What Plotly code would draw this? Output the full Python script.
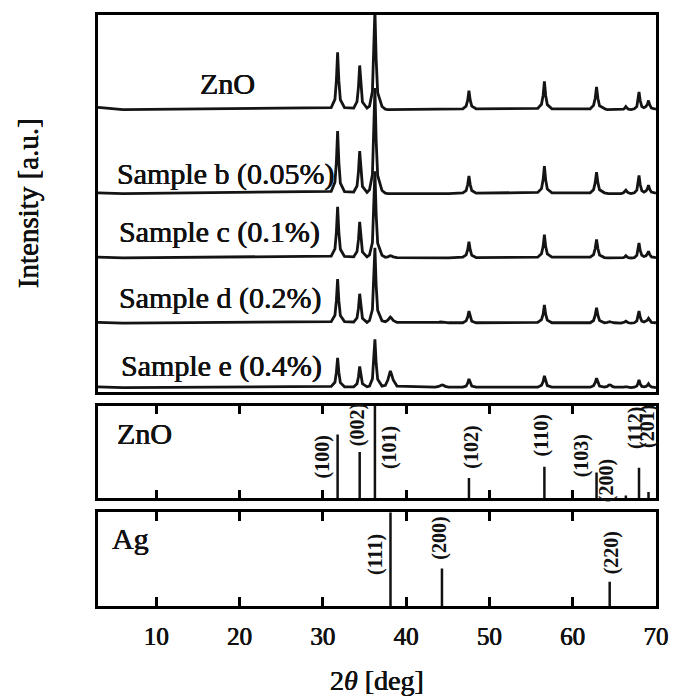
import plotly.graph_objects as go

# ---- measured XRD patterns (2theta grid shared by all samples) ----
TWO_THETA = [3.0, 6.0,
             31.0, 31.45, 31.62, 31.77, 31.92, 32.1, 32.6,
             33.7, 34.1, 34.27, 34.42, 34.57, 34.75, 35.3,
             35.6, 35.95, 36.1, 36.25, 36.4, 36.58, 37.1,
             37.5, 37.8, 37.95, 38.1, 38.25, 38.45, 38.9,
             43.5, 43.9, 44.1, 44.3, 44.5, 44.7, 45.1,
             46.8, 47.2, 47.39, 47.54, 47.69, 47.88, 48.4,
             55.8, 56.25, 56.45, 56.6, 56.75, 56.95, 57.5,
             62.1, 62.5, 62.7, 62.86, 63.02, 63.22, 63.8,
             63.95, 64.15, 64.3, 64.44, 64.6, 64.75, 65.0,
             65.8, 66.1, 66.25, 66.38, 66.52, 66.68, 67.0,
             67.4, 67.7, 67.82, 67.96, 68.1, 68.3, 68.55,
             68.8, 68.97, 69.1, 69.25, 69.45, 70.0]

I_ZNO = [0.6, 0.0,
         0.5, 2.7, 7.6, 15.2, 7.6, 2.6, 0.5,
         0.4, 2.1, 5.9, 11.7, 5.9, 2.0, 0.4,
         0.9, 4.8, 13.3, 26.5, 13.3, 4.5, 0.8,
         0.1, 0.0, 0.0, 0.0, 0.0, 0.0, 0.0,
         0.0, 0.0, 0.0, 0.0, 0.0, 0.0, 0.0,
         0.2, 0.9, 2.5, 5.0, 2.5, 0.9, 0.2,
         0.3, 1.4, 3.8, 7.5, 3.8, 1.3, 0.2,
         0.2, 1.1, 3.0, 6.0, 3.0, 1.0, 0.2,
         0.1, 0.0, 0.0, 0.0, 0.0, 0.0, 0.0,
         0.0, 0.1, 0.4, 0.8, 0.4, 0.1, 0.0,
         0.2, 0.8, 2.4, 4.7, 2.4, 0.8, 0.5,
         0.8, 1.4, 2.4, 1.2, 0.4, 0.1]

I_B = [0.2, 0.0,
       0.6, 3.0, 8.3, 16.6, 8.3, 2.8, 0.5,
       0.4, 2.0, 5.7, 11.3, 5.7, 1.9, 0.3,
       1.0, 5.0, 14.0, 28.0, 14.0, 4.8, 0.8,
       0.1, 0.0, 0.0, 0.0, 0.0, 0.0, 0.0,
       0.0, 0.0, 0.0, 0.0, 0.0, 0.0, 0.0,
       0.2, 0.8, 2.4, 4.7, 2.4, 0.8, 0.1,
       0.3, 1.3, 3.7, 7.3, 3.7, 1.2, 0.2,
       0.2, 1.0, 2.9, 5.7, 2.9, 1.0, 0.2,
       0.1, 0.0, 0.0, 0.0, 0.0, 0.0, 0.0,
       0.0, 0.2, 0.5, 0.9, 0.5, 0.2, 0.0,
       0.2, 0.9, 2.4, 4.8, 2.4, 0.8, 0.4,
       0.7, 1.3, 2.2, 1.1, 0.4, 0.1]

I_C = [0.2, 0.0,
       0.5, 2.4, 6.8, 13.6, 6.8, 2.3, 0.4,
       0.3, 1.7, 4.8, 9.6, 4.8, 1.6, 0.3,
       0.8, 4.1, 11.5, 23.0, 11.5, 3.9, 0.7,
       0.2, 0.3, 0.5, 0.6, 0.5, 0.3, 0.1,
       0.0, 0.0, 0.0, 0.0, 0.0, 0.0, 0.0,
       0.2, 0.8, 2.2, 4.3, 2.2, 0.7, 0.1,
       0.2, 1.1, 3.1, 6.2, 3.1, 1.1, 0.2,
       0.2, 0.9, 2.5, 4.9, 2.5, 0.8, 0.1,
       0.0, 0.0, 0.0, 0.0, 0.0, 0.0, 0.0,
       0.0, 0.1, 0.3, 0.6, 0.3, 0.1, 0.0,
       0.1, 0.7, 2.0, 4.0, 2.0, 0.7, 0.4,
       0.6, 1.1, 1.8, 0.9, 0.3, 0.1]

I_D = [0.2, 0.0,
       0.4, 2.1, 5.9, 11.7, 5.9, 2.0, 0.4,
       0.3, 1.4, 3.9, 7.8, 3.9, 1.3, 0.2,
       0.7, 3.6, 10.0, 20.0, 10.0, 3.4, 0.6,
       0.4, 0.8, 1.3, 1.6, 1.3, 0.7, 0.2,
       0.1, 0.2, 0.3, 0.3, 0.3, 0.2, 0.1,
       0.1, 0.6, 1.6, 3.2, 1.6, 0.5, 0.1,
       0.2, 0.9, 2.4, 4.8, 2.4, 0.8, 0.1,
       0.1, 0.7, 2.1, 4.1, 2.1, 0.7, 0.1,
       0.1, 0.2, 0.3, 0.4, 0.3, 0.2, 0.1,
       0.0, 0.1, 0.3, 0.5, 0.3, 0.1, 0.0,
       0.1, 0.6, 1.6, 3.2, 1.6, 0.5, 0.3,
       0.5, 0.8, 1.3, 0.7, 0.2, 0.1]

I_E = [0.2, 0.0,
       0.3, 1.4, 4.0, 7.9, 4.0, 1.3, 0.2,
       0.2, 1.0, 2.8, 5.6, 2.8, 1.0, 0.2,
       0.4, 2.3, 6.4, 12.8, 6.4, 2.2, 0.4,
       0.6, 2.0, 3.5, 4.4, 3.5, 2.0, 0.4,
       0.1, 0.3, 0.6, 0.7, 0.6, 0.3, 0.1,
       0.1, 0.4, 1.2, 2.3, 1.2, 0.4, 0.1,
       0.1, 0.6, 1.6, 3.1, 1.6, 0.5, 0.1,
       0.1, 0.5, 1.3, 2.5, 1.3, 0.4, 0.1,
       0.1, 0.3, 0.6, 0.7, 0.6, 0.3, 0.1,
       0.0, 0.1, 0.2, 0.3, 0.2, 0.1, 0.0,
       0.1, 0.4, 1.0, 2.0, 1.0, 0.3, 0.2,
       0.3, 0.6, 1.0, 0.5, 0.2, 0.0]

SAMPLE_NAMES = ["ZnO", "Sample b (0.05%)", "Sample c (0.1%)",
                "Sample d (0.2%)", "Sample e (0.4%)"]
SAMPLE_INTENSITY = [I_ZNO, I_B, I_C, I_D, I_E]
STACK_OFFSET = [74.9, 52.6, 35.5, 18.2, 1.1]

# ---- reference patterns ----
ZNO_REF_POS = [31.77, 34.42, 36.25, 47.54, 56.60, 62.86, 66.38, 67.96, 69.10]
ZNO_REF_INT = [69, 50, 100, 22, 34, 28, 3, 33, 7]
ZNO_REF_HKL = ["(100)", "(002)", "(101)", "(102)", "(110)", "(103)",
               "(200)", "(112)", "(201)"]

AG_REF_POS = [38.12, 44.30, 64.44]
AG_REF_INT = [100, 40, 26]
AG_REF_HKL = ["(111)", "(200)", "(220)"]

X_TICKS = [10, 20, 30, 40, 50, 60, 70]

# ---- label placement (2theta, fraction of panel height) ----
SAMPLE_LABEL_POS = [(18.6, 0.817, "center"), (5.1, 0.578, "left"),
                    (5.3, 0.424, "left"), (5.3, 0.249, "left"),
                    (5.5, 0.069, "left")]
ZNO_HKL_POS = [(29.93, 0.444), (34.1, 0.789), (38.0, 0.548), (47.8, 0.548),
               (56.3, 0.678), (61.1, 0.463), (64.0, 0.185), (67.6, 0.76),
               (68.9, 0.78)]
AG_HKL_POS = [(36.24, 0.554), (43.9, 0.725), (64.7, 0.571)]

SERIF = "Liberation Serif, Times New Roman, serif"
INK = "#111111"
HEAVY = "0.35px 0 0 #111111, -0.35px 0 0 #111111"


def serif(size, heavy=True):
    f = dict(family=SERIF, size=size, color=INK)
    if heavy:
        f["shadow"] = HEAVY
    return f


fig = go.Figure()

for name, inten, off in zip(SAMPLE_NAMES, SAMPLE_INTENSITY, STACK_OFFSET):
    fig.add_trace(go.Scatter(
        x=TWO_THETA, y=[off + v for v in inten], mode="lines", name=name,
        line=dict(color="#141414", width=2.8), xaxis="x3", yaxis="y3",
        hoverinfo="skip"))


def stick_trace(pos, inten, xa, ya):
    xs, ys = [], []
    for p, h in zip(pos, inten):
        xs += [p, p, None]
        ys += [0, h, None]
    return go.Scatter(x=xs, y=ys, mode="lines", xaxis=xa, yaxis=ya,
                      line=dict(color=INK, width=2.5), hoverinfo="skip")


fig.add_trace(stick_trace(ZNO_REF_POS, ZNO_REF_INT, "x2", "y2"))
fig.add_trace(stick_trace(AG_REF_POS, AG_REF_INT, "x", "y"))

annotations = []
for name, (x, fy, anc) in zip(SAMPLE_NAMES, SAMPLE_LABEL_POS):
    annotations.append(dict(x=x, y=fy, xref="x3", yref="y3 domain",
                            text=name, showarrow=False, xanchor=anc,
                            yanchor="middle", font=serif(30)))

annotations.append(dict(x=5.0, y=0.70, xref="x2", yref="y2 domain", text="ZnO",
                        showarrow=False, xanchor="left", yanchor="middle",
                        font=serif(30)))
annotations.append(dict(x=4.5, y=0.72, xref="x", yref="y domain", text="Ag",
                        showarrow=False, xanchor="left", yanchor="middle",
                        font=serif(30)))

for hkl, (x, fy) in zip(ZNO_REF_HKL, ZNO_HKL_POS):
    annotations.append(dict(x=x, y=fy, xref="x2", yref="y2 domain",
                            text="<b>" + hkl + "</b>", textangle=-90,
                            showarrow=False, xanchor="center", yanchor="middle",
                            font=serif(20, heavy=False)))
for hkl, (x, fy) in zip(AG_REF_HKL, AG_HKL_POS):
    annotations.append(dict(x=x, y=fy, xref="x", yref="y domain",
                            text="<b>" + hkl + "</b>", textangle=-90,
                            showarrow=False, xanchor="center", yanchor="middle",
                            font=serif(20, heavy=False)))

annotations.append(dict(x=-0.124, y=0.5, xref="paper", yref="y3 domain",
                        text="Intensity [a.u.]", textangle=-90, showarrow=False,
                        xanchor="center", yanchor="middle", font=serif(29)))
annotations.append(dict(x=0.5, y=-0.1265, xref="paper", yref="paper",
                        text="2<i>θ</i> [deg]", showarrow=False,
                        xanchor="center", yanchor="middle", font=serif(28)))

frame = dict(showline=True, linecolor="black", linewidth=2.5,
             showgrid=False, zeroline=False)
xrange = [3, 70]
tick_style = dict(tickvals=X_TICKS, ticks="inside", ticklen=9, tickwidth=2.5,
                  tickcolor="black", mirror="ticks")

fig.update_layout(
    width=681, height=699,
    margin=dict(l=98, r=13, t=13, b=93),
    paper_bgcolor="white", plot_bgcolor="white",
    showlegend=False,
    annotations=annotations,
    xaxis=dict(**frame, **tick_style, range=xrange, domain=[0, 1], anchor="y",
               ticklabelstandoff=6, tickfont=serif(25)),
    yaxis=dict(**frame, mirror=True, range=[0, 100], domain=[0, 0.1585],
               anchor="x", showticklabels=False, ticks=""),
    xaxis2=dict(**frame, **tick_style, range=xrange, domain=[0, 1],
                anchor="y2", matches="x", showticklabels=False),
    yaxis2=dict(**frame, mirror=True, range=[0, 100], domain=[0.1821, 0.3390],
                anchor="x2", showticklabels=False, ticks=""),
    xaxis3=dict(**frame, mirror=True, range=xrange, domain=[0, 1], anchor="y3",
                matches="x", ticks="", showticklabels=False),
    yaxis3=dict(**frame, mirror=True, range=[0, 100], domain=[0.3626, 1.0],
                anchor="x3", showticklabels=False, ticks=""),
)

fig.write_html("out.html")
